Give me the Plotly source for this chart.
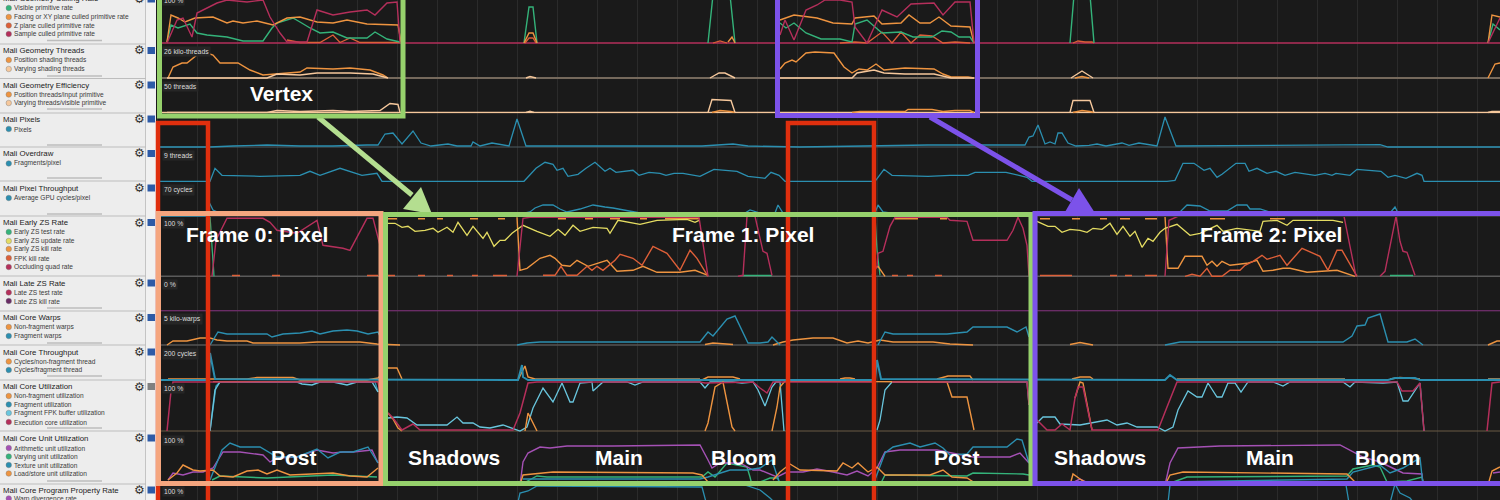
import plotly.graph_objects as go

TEAL="#2b8fb0"; ORANGE="#ee9440"; PEACH="#f6c89c"; GREEN="#34b37a"; CRIM="#b52f5b"
RED="#dd5f38"; YEL="#e4dc62"; LBLUE="#69c6de"; PURP="#a551b5"; DPURP="#6a2d66"; TAN="#a89a72"

# ---- lane geometry (top, base) in page pixels
lane_top=[0,44,79,114,148,182,217,277,312,346,381,432,485]
lane_base=[43,78,112.5,147,181.3,216,276.3,310.8,345,380,431,485,537]

# ---- Mali Geometry culling rate
cull_sample_f0=[(167,0),(177,23),(183,25),(192,6),(197,30),(207,35),(217,40),(227,43),(247,41),(263,43),(270,26),(280,10),(287,1),(297,1),(307,1),(317,33),(333,28),(350,31),(367,33),(375,28),(387,40),(397,41),(400,0.5)]
cull_facing_f0=[(167,1),(171,28),(178,25),(185,21),(195,25),(213,26),(227,20),(233,22),(243,20),(257,22),(273,18),(287,25),(300,26),(317,21),(333,20),(347,23),(367,19),(387,18),(398,18),(401,1)]
cull_visible_f0=[(167,1),(171,18),(178,15),(190,19),(197,10),(207,8),(227,6),(243,2),(263,2),(272,15),(277,20),(293,25),(300,21),(310,15),(320,10),(333,11),(347,5),(367,5),(375,11),(387,4),(400,1)]
cull_z_f0=[(287,3),(300,0.5),(320,0.5),(333,8),(340,0.5),(350,5),(360,0.5),(400,0.5)]
cull_visible_s1=[(524,0),(529,36),(533,36),(537,0)]
cull_facing_s1=[(524,0),(529,10),(533,10),(537,0)]
cull_z_s1=[(525,0),(529,5),(533,5),(536,0)]
cull_visible_s2=[(708,0),(713,48),(730,48),(735,0)]
cull_z_s2=[(713,0),(720,2),(727,0)]
cull_facing_s2=[(728,1),(732,6),(735,0)]
cull_sample_f1=[(780,8),(785,23),(794,3),(806,33),(817,38),(825,43),(840,43),(852,41),(855,16),(867,0),(882,33),(897,26),(911,39),(934,40),(943,28),(955,41),(970,41),(974,0)]
cull_facing_f1=[(780,23),(794,28),(817,25),(833,20),(852,19),(855,25),(874,27),(882,19),(901,20),(909,28),(920,20),(930,20),(939,26),(951,17),(970,16),(974,0)]
cull_visible_f1=[(780,20),(786,15),(794,20),(806,10),(821,4),(840,4),(852,1),(855,19),(867,23),(882,10),(901,11),(913,6),(932,6),(942,12),(951,11),(959,6),(970,6),(974,0)]
cull_z_f1=[(840,0),(855,1),(867,0),(882,11),(892,0),(901,11),(911,0),(920,8),(932,7),(943,0),(955,1),(970,0)]
cull_visible_s3=[(1070,0),(1074,48),(1090,48),(1094,0)]
cull_z_s3=[(1073,0),(1078,2),(1085,1),(1092,1),(1094,0)]
cull_facing_f2=[(1488,0),(1492,28),(1500,26)]
cull_visible_f2=[(1488,0),(1493,19),(1500,13)]
cull_sample_f2=[(1488,0),(1500,25)]

# ---- Mali Geometry threads
thr_pos_f0=[(168,0),(173,11),(182,15),(187,15),(197,23),(207,25),(213,23),(220,15),(238,15),(250,8),(263,3),(273,4),(287,5),(300,6),(307,10),(333,9),(350,10),(370,8),(383,3),(388,0)]
thr_var_f0=[(167,0),(267,0),(277,4),(300,3),(317,5),(350,5),(373,4),(388,0)]
thr_var_s1=[(526,0),(530,1.5),(536,0)]
thr_var_s2=[(710,0),(719,5),(725,5),(735,0)]
thr_pos_f1=[(780,9),(785,15),(792,18),(796,16),(806,25),(815,26),(834,25),(844,11),(852,5),(859,9),(867,8),(876,14),(884,8),(905,10),(934,9),(943,4),(951,1),(968,1),(974,0)]
thr_var_f1=[(780,0),(852,0),(857,5),(874,8),(884,5),(905,4),(934,4),(951,0),(974,0)]
thr_var_s3=[(1071,0),(1082,7),(1093,0)]
thr_pos_s3=[(1075,0),(1082,1.5),(1089,0)]
thr_pos_f2=[(1488,0),(1495,14),(1500,15)]

# ---- Mali Geometry efficiency
eff_var_f0=[(167,0),(267,0),(277,2),(300,1),(333,2),(350,1),(380,2),(390,9),(398,8),(400,0)]
eff_var_s1=[(526,0),(530,1.3),(534,0)]
eff_var_s2=[(708,0),(712,13),(731,12),(735,0)]
eff_pos_s2=[(712,0),(720,2),(731,1),(735,0)]
eff_pos_f1=[(852,0),(860,1),(905,1),(908,3),(932,3),(943,1),(955,2),(970,2),(974,0)]
eff_var_s3=[(1070,0),(1073,12),(1090,12),(1094,0)]
eff_pos_s3=[(1073,0),(1082,2),(1090,1),(1094,0)]
eff_var_f2=[(1488,0),(1492,1),(1500,1)]

# ---- Mali Pixels
pixels=[(160,0),(210,0),(233,1),(267,2),(300,1),(333,1),(367,2),(378,2),(385,13),(393,14),(402,3),(413,16),(421,4),(431,1),(448,3),(457,1),(471,1),(473,5),(480,1),(492,4),(509,1),(517,28),(526,1),(702,1),(733,3),(748,1),(800,0),(882,1),(928,2),(1000,2),(1025,2),(1029,10),(1033,11),(1038,22),(1045,3),(1050,5),(1055,3),(1058,14),(1062,14),(1068,4),(1076,1),(1089,1.7),(1097,3),(1106,1),(1122,4),(1129,1.7),(1139,4),(1157,1),(1165,30),(1176,1),(1346,1.7),(1380,2.3),(1388,0),(1500,0)]

# ---- Mali Overdraw
overdraw=[(160,0),(210,0),(215,13),(222,6),(260,5),(300,6),(310,10),(320,6),(340,13),(353,9),(362,6),(377,8),(382,0),(524,0),(536,13),(545,19),(553,17),(557,11),(563,13),(568,5),(578,7),(586,13),(595,19),(605,10),(610,13),(616,9),(633,11),(639,6),(649,9),(660,8),(666,6),(674,8),(683,8),(700,5),(714,12),(737,10),(748,5),(765,3),(771,9),(779,6),(785,0),(875,0),(884,12),(892,6),(928,5),(950,6),(968,6),(975,9),(1006,9),(1027,4),(1032,0),(1167,0),(1175,1),(1183,18),(1194,18),(1204,11),(1210,13),(1217,4),(1222,7),(1236,18),(1245,18),(1249,10),(1257,13),(1267,8),(1276,10),(1285,6),(1295,9),(1315,6),(1325,8),(1332,6),(1336,8),(1350,6),(1357,12),(1381,10),(1388,4),(1395,6),(1406,3),(1417,8),(1422,6),(1424,0),(1500,0)]

# ---- Mali Pixel throughput
pix_cycles=[(160,0),(206,0),(208,16),(213,6),(220,3),(525,3),(530,4),(535,8),(543,11),(553,11),(560,7),(567,4),(580,7),(593,11),(605,9),(613,8),(640,3),(745,3),(750,6),(760,3),(775,3),(778,11),(783,3),(875,3),(878,11),(883,4),(890,3),(1175,3),(1180,4),(1187,11),(1200,10),(1210,5),(1227,5),(1237,11),(1247,11),(1250,7),(1260,7),(1270,4),(1307,4),(1320,3),(1390,3),(1395,9),(1398,3),(1500,3)]

# ---- Mali Early ZS rate
zs_occl_f0=[(212,0),(216,36),(227,58),(243,58),(263,58),(270,54),(277,46),(297,43),(317,56),(323,31),(343,28),(350,26),(367,58),(373,58),(380,31),(381,0)]
zs_test_f0=[(210,60),(214,0)]
zs_update_f1a=[(388,53),(395,53),(402,49),(408,50),(415,45),(425,46),(433,48),(438,44),(447,49),(453,44),(458,54),(467,41),(473,50),(483,38),(487,44),(494,30),(500,36),(505,36),(512,43),(517,47),(523,51),(537,45),(550,40),(558,47),(565,41),(573,51),(580,45),(593,49),(607,48),(610,43),(618,56),(640,52),(657,56),(687,57),(695,54),(699,56)]
zs_occl_f1=[(517,0),(523,58),(530,59),(699,59),(708,0)]
zs_kill_f1=[(517,59),(520,6),(527,8),(540,18),(550,21),(555,18),(562,11),(570,10),(577,16),(583,13),(588,10),(607,16),(617,5),(633,6),(643,10),(657,4),(680,4),(695,6),(708,1)]
zs_fpk_f1=[(543,1),(555,1),(561,10),(567,1),(577,1),(587,10),(592,6),(597,10),(603,6),(615,16),(620,22),(633,18),(642,11),(653,30),(667,23),(680,6),(690,26),(697,18),(708,0)]
zs_occl_b1=[(738,0),(743,1),(747,60),(755,60),(763,25),(767,23),(772,1)]
zs_test_b1=[(743,0.8),(772,0.8)]
zs_occl_p1=[(872,1),(877,10),(878,23),(883,25),(890,50),(895,59),(947,59),(950,56),(967,55),(973,36),(1007,36),(1013,46),(1018,59),(1023,48),(1027,31),(1029,0)]
zs_test_p1=[(875,60),(877,26),(880,1)]
zs_kill_p1=[(873,6),(878,10),(885,0)]
zs_update_f2=[(1037,55),(1048,50),(1055,50),(1062,44),(1070,47),(1080,46),(1087,44),(1093,48),(1102,47),(1110,53),(1117,42),(1123,50),(1130,40),(1135,45),(1142,29),(1148,38),(1153,35),(1160,44),(1165,48),(1177,52),(1190,41),(1200,43),(1217,51),(1223,45),(1237,48),(1250,46),(1260,45),(1263,55),(1277,56),(1287,51),(1293,56),(1333,56),(1343,54)]
zs_occl_f2=[(1165,0),(1169,56),(1178,60),(1344,60),(1350,30),(1356,0)]
zs_kill_f2=[(1165,60),(1168,8),(1178,8),(1185,20),(1202,20),(1207,11),(1212,15),(1217,10),(1222,15),(1230,11),(1247,13),(1257,16),(1263,5),(1273,6),(1283,8),(1290,8),(1307,4),(1337,6),(1355,0)]
zs_fpk_f2=[(1185,0),(1192,2),(1200,0),(1207,8),(1212,0),(1222,0),(1230,6),(1240,6),(1245,11),(1253,15),(1262,21),(1267,17),(1280,21),(1287,11),(1302,28),(1307,26),(1320,20),(1328,6),(1337,26),(1342,26),(1357,0)]
zs_occl_b2=[(1380,0),(1385,5),(1396,60),(1400,35),(1403,25),(1407,24),(1415,1)]
zs_test_b2=[(1390,0.8),(1413,0.8)]
# orange samples that touch the top of the lane, seen as broken stretches
zs_kill_top=[(388,57.6),(397,57.6),(None,None),(418,57.6),(425,57.6),(None,None),(437,57.6),(443,57.6),(None,None),(470,57.6),(478,57.6),(None,None),(498,57.6),(505,57.6),(None,None),(558,57.6),(566,57.6),(None,None),(585,57.6),(593,57.6),(None,None),(610,57.6),(620,57.6),(None,None),(640,57.6),(647,57.6),(None,None),(665,57.6),(700,57.6),(None,None),(895,57.6),(918,57.6),(None,None),(940,57.6),(947,57.6),(None,None),(1040,57.6),(1050,57.6),(None,None),(1072,57.6),(1080,57.6),(None,None),(1100,57.6),(1107,57.6),(None,None),(1120,57.6),(1130,57.6),(None,None),(1145,57.6),(1157,57.6),(None,None),(1210,57.6),(1225,57.6),(None,None),(1270,57.6),(1285,57.6)]
zs_fpk_low=[(232,0.8),(240,0.8),(None,None),(272,0.8),(280,0.8),(None,None),(367,0.8),(378,0.8),(None,None),(388,0.8),(395,0.8),(None,None),(418,0.8),(425,0.8),(None,None),(447,0.8),(453,0.8),(None,None),(472,0.8),(478,0.8),(None,None),(493,0.8),(507,0.8),(None,None),(892,0.8),(898,0.8),(None,None),(907,0.8),(913,0.8),(None,None),(935,0.8),(942,0.8),(None,None),(1040,0.8),(1072,0.8),(None,None),(1110,0.8),(1117,0.8),(None,None),(1125,0.8),(1132,0.8),(None,None),(1145,0.8),(1157,0.8)]

# ---- Mali Core warps
warp_nf_f0=[(167,0),(173,4),(187,4),(200,7),(210,7),(217,5),(227,4),(247,4),(253,2),(287,2),(300,2),(317,3),(360,3),(377,1),(400,0)]
warp_f_f0=[(210,0),(218,13),(227,11),(267,11),(272,8),(283,11),(300,12),(312,14),(320,11),(333,14),(347,15),(357,14),(368,11),(378,13),(384,0)]
warp_f_f1=[(517,0),(527,2),(540,3),(700,3),(708,13),(713,9),(727,26),(735,29),(748,2),(760,2),(768,3),(772,8),(777,3),(780,0)]
warp_nf_f1=[(705,0.5),(713,2),(733,0.5),(None,None),(773,0),(783,3),(793,5),(813,7),(833,7),(847,2),(858,4),(868,2),(880,5),(893,3),(933,3),(950,1),(973,0)]
warp_f_p1=[(878,0),(885,13),(893,11),(947,11),(967,13),(973,18),(1007,18),(1017,13),(1026,18),(1029,8)]
warp_nf_s2=[(1070,0.5),(1080,2.5),(1093,0)]
warp_f_f2=[(1165,0),(1180,3),(1343,3),(1352,9),(1357,19),(1365,20),(1368,27),(1380,31),(1388,3),(1407,3),(1415,6),(1423,0)]
warp_nf_f2=[(1488,0),(1497,4),(1500,4)]

# ---- Mali Core throughput
cyc_nf=[(168,1),(210,1),(247,1),(257,2.5),(293,2.5),(300,0),(367,0),(378,2),(388,12),(397,12),(402,1),(None,None),(518,0),(525,14),(528,3),(535,1),(None,None),(702,0),(708,3),(733,3),(740,1),(None,None),(840,1),(845,2),(850,2),(855,1),(None,None),(937,1),(948,4),(970,4),(973,0),(None,None),(1072,1),(1080,3),(1090,3),(1093,1),(None,None),(1390,1),(1400,2.5),(1420,1)]
cyc_f=[(160,0),(209,0),(210,27),(215,1),(518,0),(522,15),(523,3),(528,0),(875,0),(877,20),(881,1),(1165,0),(1170,5),(1177,0),(1388,0),(1395,2),(1415,2),(1420,0),(1500,0)]
cyc_flat=[(535,1),(700,1),(None,None),(1177,1),(1345,1),(None,None),(1488,1),(1500,1)]

# ---- Mali Core utilization
util_exec_f0=[(167,0),(171,40),(173,49),(378,49),(380,39)]
util_fpk_f0=[(210,0),(215,41),(220,49),(297,49),(302,47),(312,46),(320,49),(333,49),(347,46),(357,49),(372,49),(378,39)]
util_frag_f0=[(210,0),(216,45),(220,49),(375,49),(378,39)]
util_nf_f0=[(213,49.5),(378,50)]
util_fpk_f1=[(388,13),(397,14),(407,13),(417,6),(447,6),(457,14),(463,8),(473,8),(480,4),(490,3),(503,6),(520,0),(527,4),(533,23),(543,43),(553,29),(562,48),(570,29),(573,29),(580,48),(592,49),(593,40),(603,49),(627,49),(635,46),(643,49),(700,49),(705,43),(710,49),(733,49),(742,48),(753,49),(758,41),(765,25),(772,44),(776,49),(780,49),(784,0),(None,None),(877,1),(880,11),(885,41),(892,49),(1027,49),(1029,26)]
util_exec_f1=[(388,18),(393,13),(402,1),(413,7),(420,1),(513,1),(520,18),(528,48),(537,49),(700,49),(705,48),(753,49),(760,43),(767,38),(773,49),(780,49),(874,49),(None,None),(892,49),(1027,49),(1029,26)]
util_nf_a=[(388,18),(393,12),(398,3),(402,0),(None,None),(525,0),(528,18),(537,0),(None,None),(705,0),(708,8),(715,44),(723,49),(728,24),(732,4),(735,0),(None,None),(772,0),(777,24),(780,44),(785,50),(947,49),(952,34),(967,34),(974,1)]
util_exec_f2=[(1037,11),(1047,1),(1055,1),(1062,7),(1070,1),(1075,33),(1078,44),(1083,44),(1092,1),(1158,1),(1167,24),(1177,49),(1397,49),(1402,40),(1413,40),(1420,48),(1424,0),(None,None),(1487,0),(1492,48),(1500,49)]
util_fpk_f2=[(1037,8),(1043,14),(1055,14),(1060,7),(1080,6),(1107,11),(1117,6),(1127,8),(1137,4),(1147,4),(1157,4),(1165,0),(1173,4),(1178,21),(1188,40),(1197,34),(1202,34),(1208,48),(1217,34),(1222,34),(1228,48),(1235,48),(1241,39),(1248,49),(1273,49),(1283,45),(1290,49),(1343,49),(1350,44),(1355,49),(1383,48),(1397,49),(1403,30),(1408,30),(1420,48),(1424,0)]
util_nf_f2=[(1075,33),(1080,49),(1083,48),(1092,1)]

# ---- Mali Core unit utilization
uu_ls_f0=[(168,5),(177,12),(183,20),(193,15),(200,14),(213,15),(220,9),(233,8),(247,14),(258,15),(267,11),(277,15),(290,10),(333,12),(350,9),(367,8),(378,17)]
uu_ar_f0=[(168,5),(173,12),(183,10),(193,13),(203,13),(213,17),(223,33),(240,33),(263,30),(270,23),(277,27),(297,28),(317,35),(333,32),(343,33),(353,33),(372,35),(378,22)]
uu_tx_f0=[(210,5),(222,35),(230,42),(240,38),(260,38),(270,32),(277,28),(297,28),(317,36),(328,27),(340,33),(353,33),(368,38),(378,22)]
uu_vr_f0=[(212,5),(220,9),(267,7),(333,10),(377,8)]
uu_ar_f1=[(520,0),(523,23),(528,32),(540,38),(550,37),(567,39),(613,39),(680,40),(700,40),(708,25),(712,17),(720,22),(740,22),(753,15),(760,15),(777,8),(787,13),(803,13),(817,16),(833,13),(847,10),(857,14),(868,9),(877,17),(885,33),(900,35),(937,35),(957,31),(973,28),(1010,28),(1020,32),(1029,22)]
uu_ls_f1=[(520,0),(523,10),(553,13),(693,12),(702,10),(708,3),(717,0),(None,None),(773,5),(780,13),(790,21),(800,15),(837,14),(843,22),(852,17),(858,22),(868,13),(877,18),(885,10),(930,10),(943,15),(952,8),(967,7),(975,2)]
uu_vr_f1=[(520,0),(537,9),(547,8),(702,8),(708,13),(715,8),(727,22),(747,18),(750,8),(752,0),(None,None),(760,3),(770,7),(778,7),(780,0),(None,None),(880,0),(885,10),(967,9),(973,12),(1023,11),(1029,10)]
uu_tx_f1=[(523,6),(700,6),(708,8),(730,15),(747,15),(760,17),(772,25),(780,0),(None,None),(873,0),(885,32),(893,38),(910,42),(920,38),(935,42),(943,37),(950,30),(967,31),(973,38),(1007,38),(1017,46),(1022,45),(1029,22)]
uu_ls_s2=[(1070,0),(1073,11),(1080,6),(1090,0)]
uu_ar_s2=[(1072,2),(1080,6),(1092,0)]
uu_ar_f2=[(1165,0),(1170,22),(1178,37),(1200,38),(1220,39),(1340,40),(1350,35),(1363,28),(1380,23),(1390,18),(1403,12),(1422,11),(1423,0),(None,None),(1493,12),(1500,13)]
uu_ls_f2=[(1165,0),(1170,10),(1183,13),(1347,11),(1355,3),(1358,0),(None,None),(1488,0),(1492,14),(1500,18)]
uu_vr_f2=[(1165,0),(1187,8),(1347,9),(1353,16),(1373,20),(1380,18),(1387,3),(1407,4),(1422,8),(1424,0)]
uu_tx_f2=[(1168,3),(1347,6),(1353,13),(1380,20),(1390,12),(1403,17),(1420,27),(1423,0)]

# ---- Mali Core program property rate
prog_f1=[(518,35),(520,44),(528,46),(537,51),(702,50),(706,35)]
prog_b1=[(742,53),(760,47),(770,39),(775,34)]
prog_f2=[(1168,34),(1170,52),(1346,52),(1349,34)]
prog_b2=[(1390,34),(1395,53),(1400,44),(1410,39),(1414,34)]

# (lane, colour, width, series)
series_table=[
 (0,CRIM,1.3,[(160,0),(1500,0)]),
 (1,"#75695c",2,[(160,0),(1500,0)]),
 (2,PEACH,1.3,[(160,0),(1500,0)]),
 (3,"#4d5a60",1.2,[(160,0),(1500,0)]),
 (5,"#555555",1,[(160,0),(1500,0)]),
 (6,"#5a5a5a",1.4,[(160,0),(1500,0)]),
 (7,DPURP,1.4,[(160,0),(1500,0)]),
 (8,"#545454",1.4,[(160,0),(1500,0)]),
 (10,"#6b5a45",1.2,[(160,0),(1500,0)]),
]
for s in [cull_z_f0,cull_z_s1,cull_z_s2,cull_z_f1,cull_z_s3]: series_table.append((0,RED,1.3,s))
for s in [cull_visible_f0,cull_visible_s1,cull_visible_s2,cull_visible_f1,cull_visible_s3,cull_visible_f2]: series_table.append((0,GREEN,1.4,s))
for s in [cull_facing_f0,cull_facing_s1,cull_facing_s2,cull_facing_f1,cull_facing_f2]: series_table.append((0,ORANGE,1.4,s))
for s in [cull_sample_f0,cull_sample_f1,cull_sample_f2]: series_table.append((0,CRIM,1.4,s))
for s in [thr_pos_f0,thr_pos_f1,thr_pos_s3,thr_pos_f2]: series_table.append((1,ORANGE,1.4,s))
for s in [thr_var_f0,thr_var_s1,thr_var_s2,thr_var_f1,thr_var_s3]: series_table.append((1,PEACH,1.4,s))
for s in [eff_pos_s2,eff_pos_f1,eff_pos_s3]: series_table.append((2,ORANGE,1.4,s))
for s in [eff_var_f0,eff_var_s1,eff_var_s2,eff_var_s3,eff_var_f2]: series_table.append((2,PEACH,1.4,s))
series_table += [(3,TEAL,1.3,pixels),(4,TEAL,1.3,overdraw),(5,TEAL,1.3,pix_cycles)]
series_table += [(6,RED,1.3,zs_fpk_low),(6,ORANGE,1.4,zs_kill_top)]
for s in [zs_test_f0,zs_test_b1,zs_test_p1,zs_test_b2]: series_table.append((6,GREEN,1.3,s))
for s in [zs_kill_f1,zs_kill_p1,zs_kill_f2]: series_table.append((6,ORANGE,1.4,s))
for s in [zs_fpk_f1,zs_fpk_f2]: series_table.append((6,RED,1.4,s))
for s in [zs_update_f1a,zs_update_f2]: series_table.append((6,YEL,1.3,s))
for s in [zs_occl_f0,zs_occl_f1,zs_occl_b1,zs_occl_p1,zs_occl_f2,zs_occl_b2]: series_table.append((6,CRIM,1.4,s))
for s in [warp_nf_f0,warp_nf_f1,warp_nf_s2,warp_nf_f2]: series_table.append((8,ORANGE,1.4,s))
for s in [warp_f_f0,warp_f_f1,warp_f_p1,warp_f_f2]: series_table.append((8,TEAL,1.4,s))
series_table += [(9,TAN,1.6,cyc_flat),(9,ORANGE,1.4,cyc_nf),(9,TEAL,2,cyc_f)]
series_table += [(10,TEAL,1.4,util_frag_f0),(10,LBLUE,1.4,util_fpk_f0),(10,ORANGE,1.4,util_nf_f0),(10,LBLUE,1.3,util_fpk_f1),(10,ORANGE,1.4,util_nf_a),(10,LBLUE,1.3,util_fpk_f2),(10,ORANGE,1.4,util_nf_f2)]
for s in [util_exec_f0,util_exec_f1,util_exec_f2]: series_table.append((10,CRIM,1.5,s))
for s in [uu_vr_f0,uu_vr_f1,uu_vr_f2]: series_table.append((11,GREEN,1.4,s))
for s in [uu_ar_f0,uu_ar_f1,uu_ar_s2,uu_ar_f2]: series_table.append((11,PURP,1.4,s))
for s in [uu_tx_f0,uu_tx_f1,uu_tx_f2]: series_table.append((11,TEAL,1.4,s))
for s in [uu_ls_f0,uu_ls_f1,uu_ls_s2,uu_ls_f2]: series_table.append((11,ORANGE,1.4,s))
for s in [prog_f1,prog_b1,prog_f2,prog_b2]: series_table.append((12,TEAL,1.3,s))

# ---- sidebar text
sidebar_titles=[("Mali Geometry Culling Rate",-1),("Mali Geometry Threads",50.5),("Mali Geometry Efficiency",85),("Mali Pixels",119),("Mali Overdraw",153.5),("Mali Pixel Throughput",188),("Mali Early ZS Rate",222.5),("Mali Late ZS Rate",283),("Mali Core Warps",317.5),("Mali Core Throughput",352),("Mali Core Utilization",386.5),("Mali Core Unit Utilization",438),("Mali Core Program Property Rate",490)]
sidebar_items=[("Visible primitive rate",8,GREEN),("Facing or XY plane culled primitive rate",17,ORANGE),("Z plane culled primitive rate",25.5,RED),("Sample culled primitive rate",34,CRIM),
("Position shading threads",60,ORANGE),("Varying shading threads",69,PEACH),("Position threads/input primitive",94.5,ORANGE),("Varying threads/visible primitive",103,PEACH),
("Pixels",129,TEAL),("Fragments/pixel",163.5,TEAL),("Average GPU cycles/pixel",198,TEAL),
("Early ZS test rate",232,GREEN),("Early ZS update rate",241,YEL),("Early ZS kill rate",249,ORANGE),("FPK kill rate",258,RED),("Occluding quad rate",267,CRIM),
("Late ZS test rate",292.5,CRIM),("Late ZS kill rate",301,DPURP),("Non-fragment warps",327,ORANGE),("Fragment warps",336,TEAL),
("Cycles/non-fragment thread",361.5,ORANGE),("Cycles/fragment thread",370,TEAL),
("Non-fragment utilization",396,ORANGE),("Fragment utilization",404.5,TEAL),("Fragment FPK buffer utilization",413,LBLUE),("Execution core utilization",422,CRIM),
("Arithmetic unit utilization",448,PURP),("Varying unit utilization",456.5,GREEN),("Texture unit utilization",465,TEAL),("Load/store unit utilization",473.5,ORANGE),("Warp divergence rate",498.5,PURP)]
grab_rows=[40.5,76,109,145,178,214,308,343,376,428,481]
sep_rows=[44,78.5,113,147,181,216,276,311,345,380,431,484]
lane_tags=[("100 %",0),("26 kilo-threads",52),("50 threads",86.5),("9 threads",155.5),("70 cycles",189.5),("100 %",224),("0 %",284.5),("5 kilo-warps",319),("200 cycles",353.5),("100 %",388),("100 %",440),("100 %",491.5)]
big_labels=[("Vertex",281,94),("Frame 0: Pixel",257,234),("Frame 1: Pixel",743,234),("Frame 2: Pixel",1271,234),("Post",294,457),("Shadows",454,457),("Main",619,457),("Bloom",743,457),("Post",957,457),("Shadows",1100,457),("Main",1270,457),("Bloom",1387,457)]

W,H=1500,500
px=lambda v:v/W
py=lambda v:1-v/H
fig=go.Figure()
# full-height pair only exists so the vertical time grid spans every lane
fig.add_trace(go.Scatter(x=[160,1500],y=[0,0],mode="lines",line=dict(color="rgba(0,0,0,0)"),hoverinfo="skip",showlegend=False))
for lane,color,width,s in series_table:
    name="y%d"%(lane+2)
    fig.add_trace(go.Scatter(x=[p[0] for p in s],y=[p[1] for p in s],yaxis=name,mode="lines",
        line=dict(color=color,width=width),connectgaps=False,hoverinfo="skip",showlegend=False))

layout=dict(width=W,height=H,margin=dict(l=0,r=0,t=0,b=0),paper_bgcolor="#1a1a1a",plot_bgcolor="#1a1a1a",showlegend=False,
  xaxis=dict(range=[0,1500],domain=[0,1],showgrid=True,gridcolor="#2b2b2b",gridwidth=1,tick0=197,dtick=40,zeroline=False,showticklabels=False,ticks=""),
  yaxis=dict(range=[0,1],domain=[0,1],showgrid=False,zeroline=False,showticklabels=False))
for i,(t,b) in enumerate(zip(lane_top,lane_base)):
    top=max(t,0); bottom=min(b+1,500)
    if i==12:
        layout["yaxis%d"%(i+2)]=dict(domain=[0,py(485)],range=[37,52],anchor="x",showgrid=False,zeroline=False,showticklabels=False)
    else:
        layout["yaxis%d"%(i+2)]=dict(domain=[py(bottom),py(top)],range=[-1,b-top],anchor="x",showgrid=False,zeroline=False,showticklabels=False)

shapes=[]; ann=[]
def rect(x0,y0,x1,y1,fill=None,line=None,w=0):
    shapes.append(dict(type="rect",xref="paper",yref="paper",x0=px(x0),x1=px(x1),y0=py(y0),y1=py(y1),fillcolor=fill or "rgba(0,0,0,0)",line=dict(color=line or "rgba(0,0,0,0)",width=w),layer="above"))
def seg(x0,y0,x1,y1,c,w):
    shapes.append(dict(type="line",xref="paper",yref="paper",x0=px(x0),x1=px(x1),y0=py(y0),y1=py(y1),line=dict(color=c,width=w),layer="above"))
def tri(a,b,c,col):
    path="M %f %f L %f %f L %f %f Z"%(px(a[0]),py(a[1]),px(b[0]),py(b[1]),px(c[0]),py(c[1]))
    shapes.append(dict(type="path",xref="paper",yref="paper",path=path,fillcolor=col,line=dict(width=0),layer="above"))
def text(x,y,t,size,color,anchor="left",fam="Liberation Sans",bold=False,bg=None):
    ann.append(dict(xref="paper",yref="paper",x=px(x),y=py(y),text="<b>%s</b>"%t if bold else t,showarrow=False,xanchor=anchor,yanchor="middle",
        font=dict(family=fam,size=size,color=color),bgcolor=bg,borderpad=1))

# sidebar
rect(0,-2,146,502,fill="#ededed")
rect(146,-2,156,502,fill="#f1f1f1")
seg(145.5,0,145.5,500,"#c4c4c4",1)
for y in sep_rows: seg(0,y,146,y,"#bdbdbd",1)
for y in grab_rows: seg(47,y,102,y,"#bcbcbc",1.6)
for i,(t,y) in enumerate(sidebar_titles):
    text(1,y,t,7.8,"#222222")
    text(139.5,y,"\u2699",12,"#333333",anchor="center",fam="DejaVu Sans",bold=True)
    rect(147.5,y-3.5,155,y+3.5,fill="#808080" if t=="Mali Core Utilization" else "#2d5aa6")
for t,y,c in sidebar_items:
    shapes.append(dict(type="circle",xref="paper",yref="paper",x0=px(6),x1=px(11.5),y0=py(y-2.8),y1=py(y+2.8),fillcolor=c,line=dict(color="#777777",width=0.4),layer="above"))
    text(11.5,y,t,6.6,"#3a3a3a")
for t,y in lane_tags:
    text(162,y,t,6.8,"#dddddd",bg="#262626")

# overlays: red first so the frame boxes sit over it
rect(158,123,208,510,line="#e02f0e",w=4.5)
rect(788,123,874,510,line="#e02f0e",w=4.5)
seg(318,117,412,195,"#b4de90",5)
tri((432,214),(421,187),(403,209),"#b4de90")
seg(930,117,1072,200,"#7c52ea",5)
tri((1095,213),(1079,188),(1065,212),"#7c52ea")
rect(159.5,-10,403,116,line="#96d16c",w=5)
rect(777.5,-10,977.5,115.5,line="#7c52ea",w=5)
rect(158.5,213.5,381,483.5,line="#f5a67f",w=5)
rect(385.5,214.5,1031,483.5,line="#96d16c",w=5)
rect(1035,213.5,1515,483.5,line="#7c52ea",w=5)
for t,x,y in big_labels:
    text(x,y,t,21,"#ffffff",anchor="center",bold=True)

layout["shapes"]=shapes; layout["annotations"]=ann
fig.update_layout(**layout)
fig.write_html("out.html",config={"displayModeBar":False},post_script="document.body.style.margin='0';document.body.style.background='#1a1a1a';")
